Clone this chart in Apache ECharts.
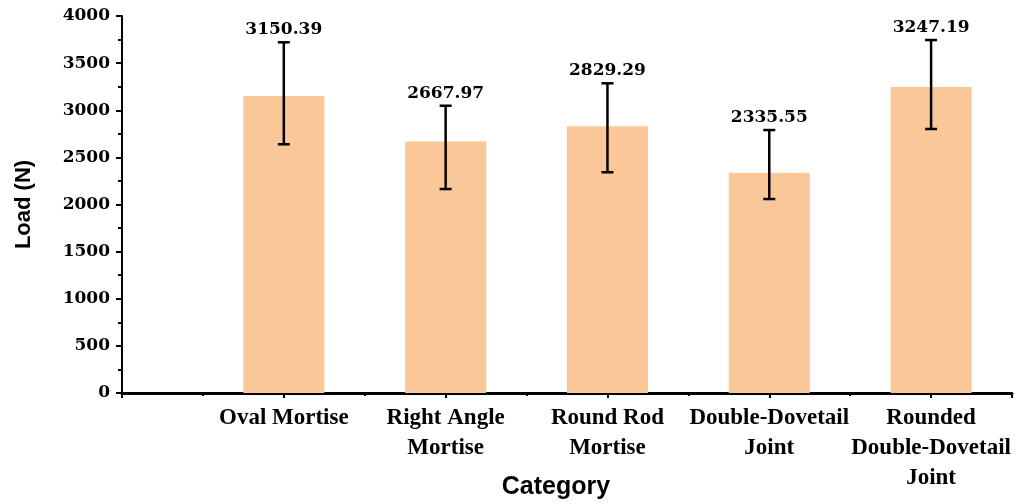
<!DOCTYPE html>
<html>
<head>
<meta charset="utf-8">
<script src="https://cdn.jsdelivr.net/npm/echarts@6/dist/echarts.min.js"></script>
<style>html,body{margin:0;padding:0;background:#fff}#c{width:1016px;height:504px}</style>
</head>
<body>
<div id="c"></div>
<script>
const categories = ['Oval Mortise', 'Right Angle\nMortise', 'Round Rod\nMortise', 'Double-Dovetail\nJoint', 'Rounded\nDouble-Dovetail\nJoint'];
const positions = [1, 2, 3, 4, 5];
const loads = [3150.39, 2667.97, 2829.29, 2335.55, 3247.19];
const errLow = [2639, 2164, 2342, 2058, 2801];
const errHigh = [3721, 3048, 3286, 2790, 3745];
const yTicks = [0, 500, 1000, 1500, 2000, 2500, 3000, 3500, 4000];

const chart = echarts.init(document.getElementById('c'));
chart.setOption({
  animation: false,
  backgroundColor: '#fff',
  grid: { left: 122, right: 4, top: 16, bottom: 111, containLabel: false, outerBoundsMode: 'none' },
  xAxis: {
    type: 'value', min: 0, max: 5.5, interval: 1,
    name: 'Category', nameLocation: 'middle', nameGap: 82, nameMoveOverlap: false,
    nameTextStyle: { fontFamily: 'Liberation Sans', fontWeight: 'bold', fontSize: 25, color: '#000', padding: [0, 22, 0, 0] },
    axisLine: { show: true, lineStyle: { color: '#000', width: 3 } },
    axisTick: { show: true, length: 5, inside: false, lineStyle: { color: '#000', width: 2 } },
    minorTick: { show: true, splitNumber: 2, length: 3, lineStyle: { color: '#000', width: 2 } },
    splitLine: { show: false },
    axisLabel: {
      margin: 10, interval: 0, showMinLabel: false, showMaxLabel: false,
      fontFamily: 'Liberation Serif', fontWeight: 'bold', fontSize: 23, color: '#000', lineHeight: 30,
      verticalAlign: 'top',
      formatter: function (v) { const i = positions.indexOf(v); return i >= 0 ? categories[i] : ''; }
    }
  },
  yAxis: {
    type: 'value', min: 0, max: 4000, interval: 500,
    name: 'Load (N)', nameLocation: 'middle', nameGap: 87, nameRotate: 90, nameMoveOverlap: false,
    nameTextStyle: { fontFamily: 'Liberation Sans', fontWeight: 'bold', fontSize: 22, color: '#000' },
    axisLine: { show: true, lineStyle: { color: '#000', width: 2 } },
    axisTick: { show: true, length: 6, lineStyle: { color: '#000', width: 2 } },
    minorTick: { show: true, splitNumber: 2, length: 4, lineStyle: { color: '#000', width: 2 } },
    splitLine: { show: false },
    axisLabel: {
      margin: 12, fontFamily: 'DejaVu Serif', fontWeight: 'bold', fontSize: 17, color: '#000',
      formatter: function (v) { return yTicks.indexOf(v) >= 0 ? String(v) : ''; }
    }
  },
  series: [
    {
      type: 'bar', barWidth: 81,
      itemStyle: { color: '#F9C798' },
      data: positions.map((p, i) => [p, loads[i]])
    },
    {
      type: 'custom', z: 10,
      data: positions.map((p, i) => [p, errLow[i], errHigh[i], loads[i]]),
      renderItem: function (params, api) {
        const x = api.value(0);
        const lo = api.coord([x, api.value(1)]);
        const hi = api.coord([x, api.value(2)]);
        const cap = 6;
        const st = { stroke: '#000', lineWidth: 2.5 };
        return {
          type: 'group',
          children: [
            { type: 'line', shape: { x1: lo[0], y1: lo[1], x2: hi[0], y2: hi[1] }, style: st },
            { type: 'line', shape: { x1: hi[0] - cap, y1: hi[1], x2: hi[0] + cap, y2: hi[1] }, style: st },
            { type: 'line', shape: { x1: lo[0] - cap, y1: lo[1], x2: lo[0] + cap, y2: lo[1] }, style: st },
            { type: 'text', x: hi[0], y: hi[1] - 4,
              style: { text: api.value(3).toFixed(2), fill: '#000', font: 'bold 17px "DejaVu Serif"', align: 'center', verticalAlign: 'bottom' } }
          ]
        };
      }
    }
  ]
});
</script>
</body>
</html>
